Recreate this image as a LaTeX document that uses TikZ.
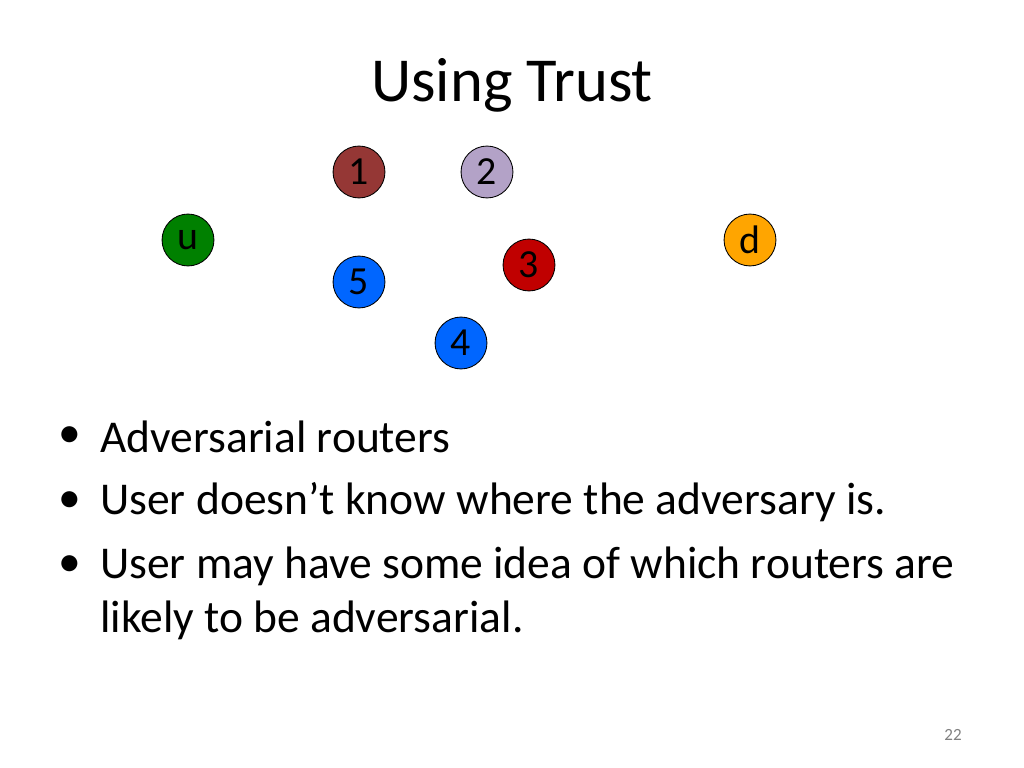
\documentclass[tikz,border=0pt]{standalone}
\usepackage{fontspec}
\setmainfont{Carlito}
\begin{document}
\begin{tikzpicture}[x=0.703125pt,y=-0.703125pt,
  rt/.style={circle,draw=black,line width=0.6pt,minimum size=36.5pt,inner sep=0pt,font=\fontsize{28}{30}\selectfont},
  bl/.style={anchor=west,font=\fontsize{32}{40}\selectfont,inner sep=0pt}]
\useasboundingbox[fill=white] (0,0) rectangle (1024,768);
\node[font=\fontsize{44}{50}\selectfont] (title) at (512,85) {Using Trust};
\node[rt,fill={rgb,255:red,149;green,55;blue,53}] (n1) at (359,172) {1};
\node[rt,fill={rgb,255:red,179;green,162;blue,199}] (n2) at (487,172) {2};
\node[rt,fill={rgb,255:red,0;green,128;blue,0}] (u) at (188,240) {u};
\node[rt,fill={rgb,255:red,255;green,165;blue,0}] (d) at (750,240) {d};
\node[rt,fill={rgb,255:red,192;green,0;blue,0}] (n3) at (529,265) {3};
\node[rt,fill={rgb,255:red,0;green,102;blue,255}] (n5) at (359,282) {5};
\node[rt,fill={rgb,255:red,0;green,102;blue,255}] (n4) at (461,343) {4};
\node[bl] (b1d) at (58,437) {\textbullet};
\node[bl] (b1) at (100,437) {Adversarial routers};
\node[bl] (b2d) at (58,502) {\textbullet};
\node[bl] (b2) at (100,502) {User doesn’t know where the adversary is.};
\node[bl] (b3d) at (58,566) {\textbullet};
\node[bl] (b3) at (100,566) {User may have some idea of which routers are};
\node[bl] (b4) at (100,620) {likely to be adversarial.};
\node[font=\fontsize{12}{14}\selectfont,text=gray] (pg) at (953,735) {22};
\end{tikzpicture}
\end{document}
